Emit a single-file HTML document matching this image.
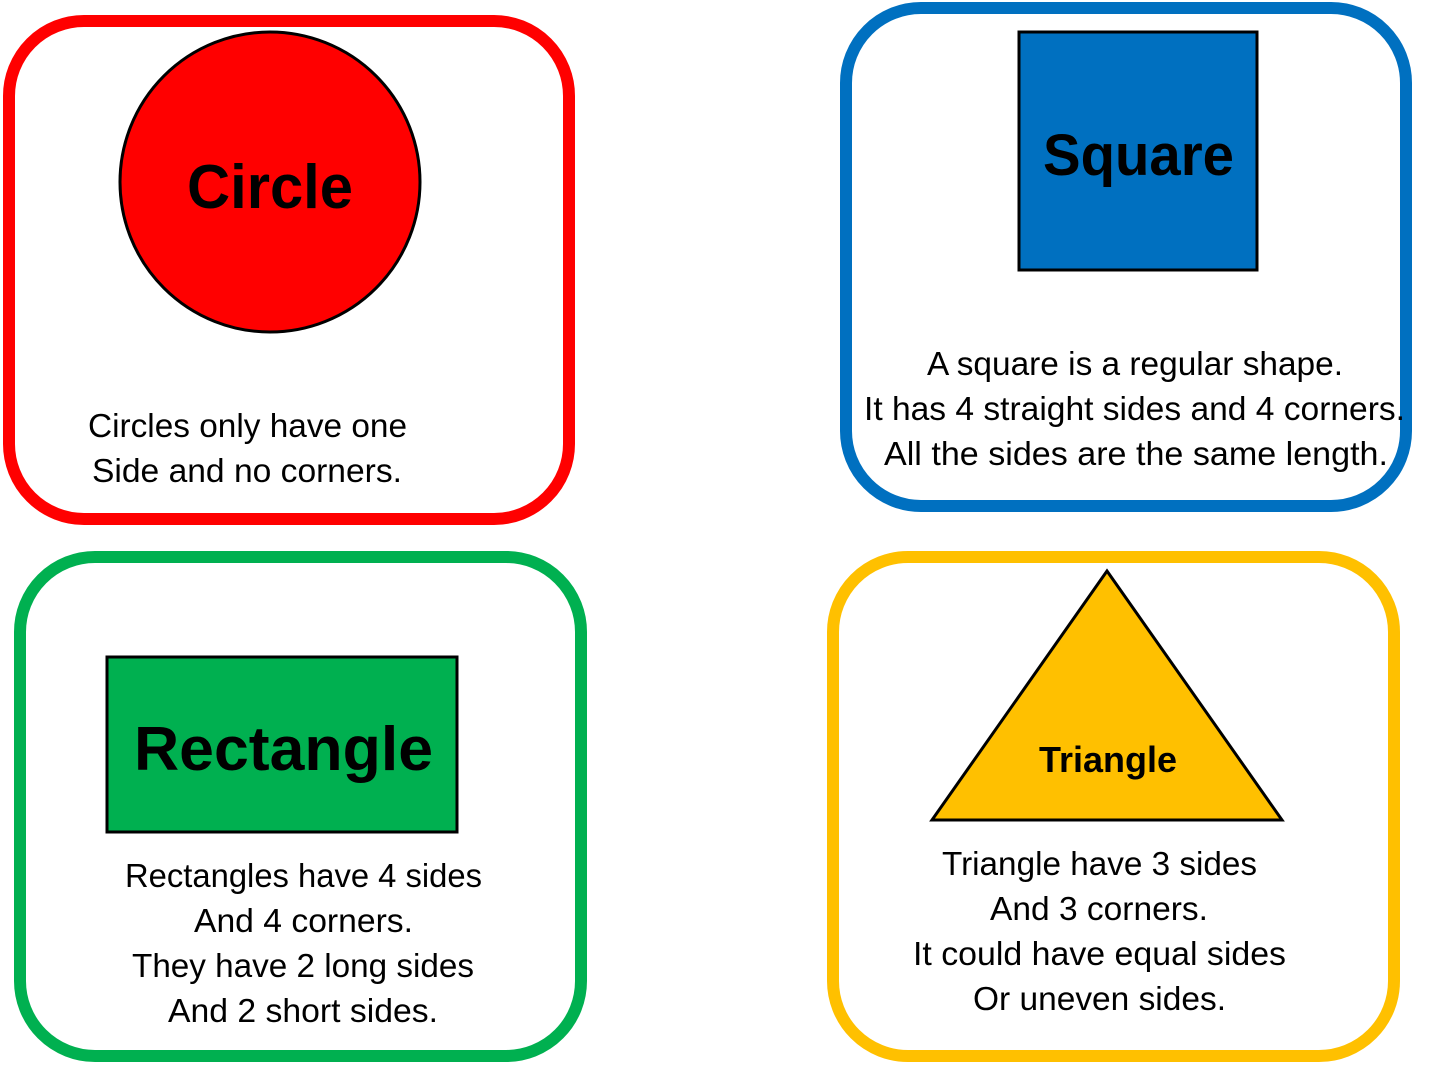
<!DOCTYPE html>
<html><head><meta charset="utf-8"><style>
html,body{margin:0;padding:0;background:#fff;}
svg{display:block;}
text{font-family:"Liberation Sans",sans-serif;fill:#000;}
.t{font-size:33px;}
.b{font-weight:bold;}
</style></head><body>
<svg width="1431" height="1065" viewBox="0 0 1431 1065">
<rect x="9" y="21" width="560" height="498" rx="75" fill="#fff" stroke="#ff0000" stroke-width="12"/>
<rect x="846" y="8" width="560" height="498" rx="75" fill="#fff" stroke="#0070c0" stroke-width="12"/>
<rect x="20" y="557" width="561" height="499" rx="75" fill="#fff" stroke="#00b050" stroke-width="12"/>
<rect x="833" y="557" width="561" height="499" rx="75" fill="#fff" stroke="#ffc000" stroke-width="12"/>

<circle cx="270" cy="182" r="150" fill="#ff0000" stroke="#000" stroke-width="3"/>
<text class="b" x="187" y="208" font-size="62" textLength="166" lengthAdjust="spacingAndGlyphs">Circle</text>
<text class="t" x="88" y="437" textLength="319" lengthAdjust="spacingAndGlyphs">Circles only have one</text>
<text class="t" x="92" y="482" textLength="310" lengthAdjust="spacingAndGlyphs">Side and no corners.</text>

<rect x="1019" y="32" width="238" height="238" fill="#0070c0" stroke="#000" stroke-width="3"/>
<text class="b" x="1043" y="175" font-size="58" textLength="191" lengthAdjust="spacingAndGlyphs">Square</text>
<text class="t" x="927" y="375" textLength="416" lengthAdjust="spacingAndGlyphs">A square is a regular shape.</text>
<text class="t" x="864" y="420" textLength="541" lengthAdjust="spacingAndGlyphs">It has 4 straight sides and 4 corners.</text>
<text class="t" x="884" y="465" textLength="504" lengthAdjust="spacingAndGlyphs">All the sides are the same length.</text>

<rect x="107" y="657" width="350" height="175" fill="#00b050" stroke="#000" stroke-width="3"/>
<text class="b" x="134" y="770" font-size="62" textLength="299" lengthAdjust="spacingAndGlyphs">Rectangle</text>
<text class="t" x="125" y="887" textLength="357" lengthAdjust="spacingAndGlyphs">Rectangles have 4 sides</text>
<text class="t" x="194" y="932" textLength="219" lengthAdjust="spacingAndGlyphs">And 4 corners.</text>
<text class="t" x="132" y="977" textLength="342" lengthAdjust="spacingAndGlyphs">They have 2 long sides</text>
<text class="t" x="168" y="1022" textLength="270" lengthAdjust="spacingAndGlyphs">And 2 short sides.</text>

<polygon points="1107,571 932,820 1282,820" fill="#ffc000" stroke="#000" stroke-width="3"/>
<text class="b" x="1039" y="772" font-size="36" textLength="138" lengthAdjust="spacingAndGlyphs">Triangle</text>
<text class="t" x="942" y="875" textLength="315" lengthAdjust="spacingAndGlyphs">Triangle have 3 sides</text>
<text class="t" x="990" y="920" textLength="218" lengthAdjust="spacingAndGlyphs">And 3 corners.</text>
<text class="t" x="913" y="965" textLength="373" lengthAdjust="spacingAndGlyphs">It could have equal sides</text>
<text class="t" x="973" y="1010" textLength="253" lengthAdjust="spacingAndGlyphs">Or uneven sides.</text>
</svg>
</body></html>
